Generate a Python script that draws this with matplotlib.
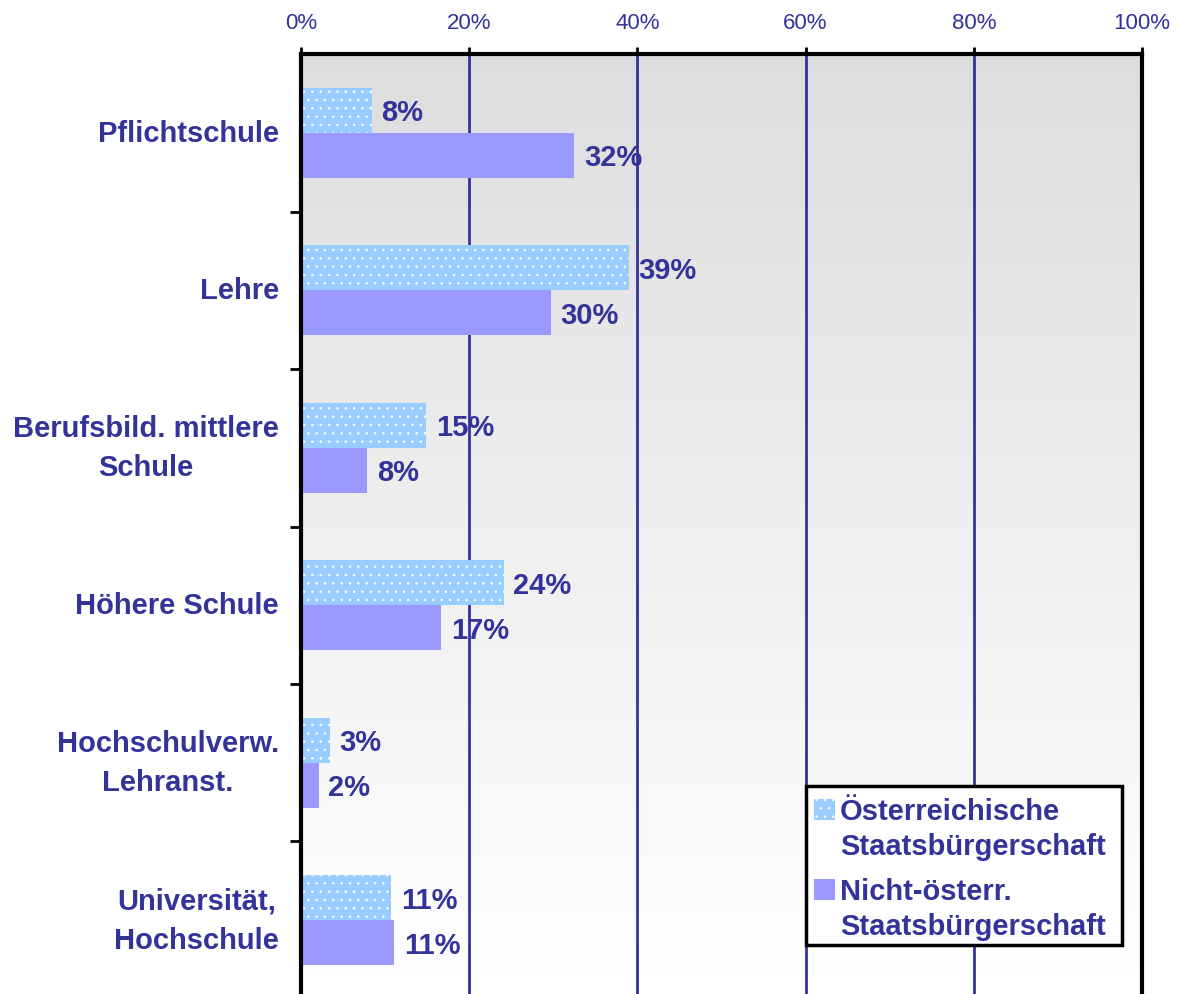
import numpy as np
import matplotlib
matplotlib.use('Agg')
import matplotlib.pyplot as plt
from matplotlib.ticker import FixedLocator
from matplotlib.patches import Rectangle

plt.rcParams['font.family'] = ['Liberation Sans', 'DejaVu Sans']
plt.rcParams['hatch.linewidth'] = 0.6

categories = ['Pflichtschule', 'Lehre', 'Berufsbild. mittlere\nSchule', 'Höhere Schule',
              'Hochschulverw.\nLehranst.', 'Universität,\nHochschule']
oesterr = [8.4, 39.0, 14.9, 24.1, 3.4, 10.7]
nicht_oesterr = [32.5, 29.7, 7.9, 16.7, 2.1, 11.1]
oesterr_labels = ['8%', '39%', '15%', '24%', '3%', '11%']
nicht_labels = ['32%', '30%', '8%', '17%', '2%', '11%']
series_names = ['Österreichische\nStaatsbürgerschaft', 'Nicht-österr.\nStaatsbürgerschaft']
xticks = [0, 20, 40, 60, 80, 100]

navy = '#333399'
c_oe = '#99ccff'
c_ni = '#9999ff'
W, H = 1180, 995


def fx(px):
    return px / W


def fy(py):
    return 1 - py / H


fig = plt.figure(figsize=[11.8, 9.95], dpi=100)
ax = fig.add_axes([fx(301), fy(1000), fx(841), 945 / H])

# grey -> white gradient behind the bars
grad = np.linspace(0.865, 1.0, 256).reshape(-1, 1)
ax.imshow(grad, cmap='gray', vmin=0, vmax=1, aspect='auto',
          extent=[0, 100, 5.5, -0.5], zorder=0, interpolation='bilinear')

y = np.arange(len(categories))
h = 0.286
b1 = ax.barh(y - h/2, oesterr, height=h, color=c_oe, edgecolor='white',
             linewidth=0, hatch='..', zorder=2)
b2 = ax.barh(y + h/2, nicht_oesterr, height=h, color=c_ni, linewidth=0, zorder=2)

for bars, labs in [(b1, oesterr_labels), (b2, nicht_labels)]:
    for rect, lab in zip(bars, labs):
        ax.annotate(lab, (rect.get_width(), rect.get_y() + rect.get_height()/2),
                    xytext=(7, -1.5), textcoords='offset points', ha='left', va='center',
                    fontsize=21, fontweight='bold', color=navy, zorder=4)

ax.set_xlim(0, 100)
ax.set_ylim(5.5, -0.5)
ax.set_xticks(xticks)
ax.set_xticklabels(['{}%'.format(t) for t in xticks], fontsize=16, color=navy)
ax.xaxis.tick_top()
ax.tick_params(axis='x', length=5, width=2, color='black', pad=10)
for t in xticks[1:-1]:
    ax.axvline(t, color=navy, lw=2, zorder=1)

ax.set_yticks(y)
ax.set_yticklabels(categories, fontsize=21, fontweight='bold', color=navy,
                   multialignment='center', linespacing=1.5, va='center')
ax.tick_params(axis='y', which='major', length=0, pad=16)
ax.yaxis.set_minor_locator(FixedLocator(np.arange(0.5, 5.5, 1)))
ax.tick_params(axis='y', which='minor', length=8, width=2, color='black')

for s in ['top', 'left', 'right']:
    ax.spines[s].set_linewidth(3)
    ax.spines[s].set_color('black')
ax.spines['bottom'].set_visible(False)

# legend box, square next to first line of each entry
fig.patches.append(Rectangle((fx(806), fy(946)), fx(316), (946 - 787) / H,
                             transform=fig.transFigure, facecolor='white',
                             edgecolor='black', linewidth=2.5, zorder=5))
leg_rows = [(800, c_oe, '..'), (880, c_ni, None)]
for (top, col, hat), name in zip(leg_rows, series_names):
    fig.patches.append(Rectangle((fx(814), fy(top + 21)), fx(21), 21 / H,
                                 transform=fig.transFigure, facecolor=col,
                                 edgecolor='white', linewidth=0, hatch=hat, zorder=6))
    fig.text(fx(840), fy(top - 2), name, ha='left', va='top', fontsize=21,
             fontweight='bold', color=navy, linespacing=1.3, zorder=6)

fig.savefig('out.png', dpi=100)
